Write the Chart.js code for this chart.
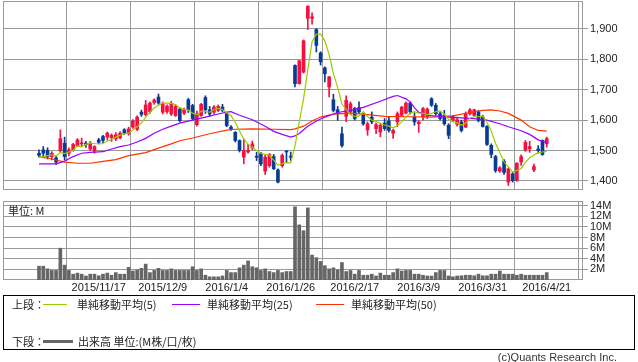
<!DOCTYPE html>
<html>
  <head>
    <meta charset="utf-8" />
    <title>chart</title>
    <style>
      body { margin: 0; width: 638px; height: 362px; position: relative; overflow: hidden; background: #fff; color: #222; }
      #price { position: absolute; left: 0; top: 0; }
      #vol { position: absolute; left: 0; top: 195px; }
      .cjk { font-family: "Noto Sans CJK JP", sans-serif; font-size: 11px; white-space: nowrap; position: absolute; line-height: 14px; }
      .unit { left: 8px; top: 203px; }
      .legend { position: absolute; left: 3px; top: 295px; width: 632px; height: 55px; border: 1px solid #000; box-sizing: border-box; }
      .ln { position: absolute; height: 0; }
      .copy { position: absolute; right: 21px; top: 350px; font-family: "Liberation Sans", sans-serif; font-size: 11px; line-height: 14px; color: #333; }
    </style>
  </head>

  <body>
    <canvas id="price" width="638" height="192"></canvas>
    <canvas id="vol" width="638" height="102"></canvas>
    <div class="cjk unit">単位: M</div>

    <!-- 凡例 -->
    <div class="legend"></div>
    <div class="cjk" style="left:12px; top:297px">上段：</div>
    <div class="ln" style="left:43px; top:304px; width:24px; border-top:1px solid #99cc00"></div>
    <div class="cjk" style="left:77px; top:297px">単純移動平均(5)</div>
    <div class="ln" style="left:172px; top:304px; width:28px; border-top:1px solid #9900ff"></div>
    <div class="cjk" style="left:207px; top:297px">単純移動平均(25)</div>
    <div class="ln" style="left:316px; top:304px; width:28px; border-top:1px solid #ff3300"></div>
    <div class="cjk" style="left:351px; top:297px">単純移動平均(50)</div>
    <div class="cjk" style="left:12px; top:334px">下段：</div>
    <div class="ln" style="left:43px; top:340px; width:30px; border-top:3px solid #666"></div>
    <div class="cjk" style="left:78px; top:334px">出来高 単位:(M株/口/枚)</div>
    <div class="copy">(c)Quants Research Inc.</div>

    <script src="https://cdn.jsdelivr.net/npm/chart.js@4"></script>

    <script>
      // 日足 (2015/10/27 - 2016/4/21)
      var open = [
        1491, 1502, 1500, 1480, 1476, 1500, 1524, 1491, 1502, 1516,
        1522, 1524, 1505, 1498, 1535, 1546, 1544, 1542, 1538, 1542,
        1568, 1555, 1577, 1570, 1626, 1618, 1628, 1658, 1676, 1626,
        1628, 1620, 1615, 1636, 1623, 1667, 1648, 1585, 1615, 1674,
        1634, 1626, 1632, 1643, 1621, 1577, 1560, 1533, 1478, 1495,
        1509, 1481, 1489, 1432, 1450, 1480, 1436, 1450, 1498, 1481,
        1780, 1720, 1758, 1935, 1935, 1898, 1821, 1772, 1709, 1667,
        1634, 1555, 1612, 1627, 1638, 1641, 1616, 1568, 1610, 1572,
        1561, 1590, 1597, 1557, 1594, 1616, 1623, 1656, 1610, 1588,
        1610, 1612, 1670, 1649, 1621, 1616, 1583, 1599, 1586, 1594,
        1577, 1621, 1616, 1627, 1610, 1579, 1517, 1480, 1432, 1465,
        1396, 1423, 1401, 1462, 1502, 1506, 1436, 1505, 1533, 1522,
      ];
      var high = [
        1502, 1513, 1509, 1496, 1482, 1568, 1544, 1509, 1524, 1539,
        1541, 1530, 1530, 1516, 1540, 1550, 1561, 1555, 1559, 1562,
        1572, 1577, 1602, 1614, 1633, 1665, 1660, 1670, 1686, 1660,
        1650, 1662, 1650, 1640, 1640, 1672, 1652, 1630, 1655, 1680,
        1645, 1648, 1650, 1652, 1625, 1582, 1562, 1535, 1538, 1520,
        1531, 1494, 1494, 1484, 1490, 1487, 1440, 1489, 1500, 1495,
        1782, 1797, 1864, 1976, 1953, 1901, 1825, 1775, 1744, 1685,
        1645, 1577, 1680, 1660, 1642, 1660, 1622, 1594, 1627, 1590,
        1590, 1605, 1610, 1570, 1627, 1645, 1660, 1660, 1624, 1598,
        1642, 1640, 1674, 1655, 1627, 1632, 1588, 1616, 1610, 1600,
        1627, 1638, 1636, 1632, 1616, 1582, 1522, 1484, 1447, 1470,
        1443, 1428, 1460, 1486, 1533, 1530, 1455, 1516, 1535, 1544,
      ];
      var low = [
        1478, 1476, 1472, 1469, 1454, 1495, 1469, 1482, 1498, 1513,
        1513, 1510, 1500, 1491, 1522, 1526, 1535, 1530, 1532, 1538,
        1553, 1550, 1573, 1565, 1612, 1614, 1622, 1652, 1652, 1620,
        1622, 1615, 1612, 1594, 1618, 1625, 1600, 1580, 1612, 1622,
        1612, 1620, 1628, 1628, 1578, 1566, 1528, 1495, 1456, 1491,
        1502, 1467, 1450, 1421, 1445, 1437, 1393, 1445, 1461, 1467,
        1709, 1718, 1755, 1898, 1916, 1824, 1781, 1726, 1676, 1627,
        1599, 1511, 1595, 1618, 1600, 1622, 1583, 1550, 1588, 1555,
        1545, 1566, 1560, 1540, 1578, 1612, 1620, 1620, 1583, 1560,
        1600, 1605, 1645, 1616, 1600, 1583, 1539, 1595, 1580, 1561,
        1575, 1616, 1612, 1594, 1577, 1517, 1476, 1428, 1428, 1421,
        1385, 1396, 1398, 1451, 1497, 1494, 1430, 1491, 1484, 1511,
      ];
      var close = [
        1484, 1491, 1480, 1491, 1462, 1539, 1480, 1502, 1520, 1535,
        1524, 1520, 1524, 1513, 1527, 1533, 1557, 1550, 1552, 1557,
        1557, 1571, 1597, 1610, 1619, 1650, 1656, 1666, 1656, 1654,
        1646, 1655, 1645, 1598, 1634, 1634, 1605, 1621, 1652, 1634,
        1620, 1643, 1645, 1632, 1582, 1571, 1533, 1500, 1500, 1500,
        1522, 1478, 1456, 1478, 1487, 1440, 1396, 1484, 1495, 1478,
        1720, 1795, 1861, 1975, 1940, 1846, 1792, 1753, 1742, 1632,
        1621, 1516, 1665, 1654, 1605, 1627, 1588, 1588, 1594, 1585,
        1583, 1572, 1566, 1566, 1621, 1643, 1656, 1627, 1594, 1594,
        1638, 1636, 1649, 1621, 1605, 1588, 1550, 1612, 1601, 1566,
        1621, 1634, 1634, 1599, 1579, 1520, 1487, 1434, 1443, 1428,
        1440, 1401, 1458, 1480, 1527, 1513, 1447, 1500, 1487, 1539,
      ];

      // 出来高 (M)
      var volume = [
        2.6, 2.6, 2.1, 1.8, 1.8, 6.0, 2.8, 1.8, 1.1, 1.3,
        1.1, 0.75, 1.1, 1.1, 0.8, 1.1, 1.3, 0.9, 1.4, 1.1,
        1.1, 2.4, 1.7, 1.9, 2.2, 3.0, 1.4, 1.8, 2.2, 1.8,
        1.8, 2.1, 1.8, 1.8, 1.8, 1.8, 2.5, 1.8, 2.1, 0.9,
        0.6, 0.6, 0.6, 0.75, 1.8, 1.4, 1.4, 2.3, 2.8, 3.6,
        2.5, 2.3, 1.8, 2.1, 1.6, 1.4, 1.8, 1.4, 1.6, 1.6,
        13.8, 10.4, 9.3, 13.6, 4.7, 4.2, 3.5, 2.7, 2.1, 2.3,
        1.9, 3.3, 1.6, 1.8, 1.1, 1.8, 0.9, 0.9, 1.1, 0.75,
        1.3, 0.9, 0.9, 1.4, 2.1, 1.7, 1.8, 1.8, 1.1, 1.1,
        0.9, 0.75, 0.75, 1.4, 1.8, 1.8, 0.75, 0.6, 0.75, 0.8,
        0.9, 0.9, 0.8, 1.1, 0.8, 0.8, 1.1, 1.1, 1.7, 1.1,
        1.1, 1.1, 0.9, 1.1, 0.9, 0.9, 0.9, 0.9, 0.9, 1.4,
      ];

      // 単純移動平均(5)
      var ma5 = [
        1478, 1480, 1483, 1486, 1482, 1493, 1490, 1495, 1501, 1515,
        1512, 1520, 1525, 1523, 1522, 1523, 1531, 1536, 1544, 1550,
        1555, 1557, 1567, 1578, 1591, 1609, 1626, 1640, 1649, 1656,
        1656, 1655, 1651, 1640, 1636, 1633, 1623, 1618, 1629, 1629,
        1626, 1634, 1639, 1635, 1624, 1615, 1593, 1564, 1537, 1521,
        1511, 1500, 1491, 1487, 1484, 1468, 1451, 1457, 1460, 1459,
        1515, 1594, 1670, 1766, 1858, 1883, 1883, 1861, 1815, 1753,
        1708, 1653, 1635, 1618, 1612, 1613, 1628, 1612, 1600, 1596,
        1588, 1584, 1580, 1574, 1582, 1594, 1610, 1623, 1628, 1623,
        1622, 1618, 1622, 1628, 1630, 1620, 1603, 1595, 1591, 1583,
        1590, 1607, 1611, 1611, 1613, 1593, 1564, 1524, 1493, 1462,
        1446, 1429, 1434, 1441, 1461, 1476, 1485, 1493, 1495, 1497,
      ];
      // 単純移動平均(25) 読み取り点
      var ma25Idx = [0, 4, 6, 8, 10, 12, 15, 17, 19, 21, 23, 25, 27, 29, 31, 33, 36, 39, 42, 44, 45, 47, 50, 53, 55, 57, 59, 60, 61, 63, 65, 67, 70, 73, 76, 80, 83, 84, 86, 87, 88, 89, 91, 94, 98, 102, 105, 108, 110, 113, 115, 117, 119];
      var ma25 = [1456, 1456, 1465, 1480, 1491, 1494, 1496, 1505, 1513, 1518, 1528, 1540, 1557, 1570, 1580, 1590, 1600, 1610, 1620, 1626, 1628, 1616, 1601, 1580, 1563, 1553, 1544, 1548, 1556, 1580, 1597, 1610, 1625, 1632, 1642, 1662, 1678, 1681, 1670, 1660, 1640, 1626, 1616, 1612, 1608, 1605, 1600, 1588, 1578, 1565, 1553, 1535, 1526];
      // 単純移動平均(50) 読み取り点
      var ma50Idx = [0, 3, 6, 9, 12, 15, 18, 21, 25, 28, 31, 33, 36, 40, 44, 46, 50, 55, 59, 60, 62, 64, 66, 69, 73, 77, 81, 87, 92, 97, 101, 104, 106, 108, 110, 113, 115, 117, 119];
      var ma50 = [1480, 1472, 1462, 1458, 1458, 1464, 1470, 1483, 1493, 1508, 1522, 1532, 1541, 1555, 1567, 1570, 1571, 1570, 1569, 1571, 1580, 1597, 1610, 1620, 1623, 1618, 1612, 1611, 1610, 1614, 1625, 1632, 1634, 1630, 1622, 1600, 1578, 1566, 1564];

      var tickIdx = [14, 29, 44, 59, 74, 89, 104, 119];
      var tickLabels = ["2015/11/17", "2015/12/9", "2016/1/4", "2016/1/26", "2016/2/17", "2016/3/9", "2016/3/31", "2016/4/21"];
      var priceTicks = [1400, 1500, 1600, 1700, 1800, 1900];
      var volTicks = [2, 4, 6, 8, 10, 12, 14];

      var RED = "#f5103f";
      var BLUE = "#0a3a94";
      var GRID = "#9a9a9a";
      var tickFont = { family: "Liberation Sans", size: 11 };

      var candleColor = close.map(function (c, i) { return c >= open[i] ? RED : BLUE; });

      // 枠線
      var frame = {
        id: "frame",
        beforeDatasetsDraw: function (chart) {
          var a = chart.chartArea, ctx = chart.ctx;
          ctx.save();
          ctx.strokeStyle = GRID;
          ctx.lineWidth = 1;
          ctx.strokeRect(Math.round(a.left) + 0.5, Math.round(a.top) + 0.5,
            Math.round(a.right - a.left) - 1, Math.round(a.bottom - a.top) - 1);
          ctx.restore();
        },
      };

      function xScale(showLabels, h) {
        return {
          type: "linear", min: -8.44, max: 127.5, offset: false,
          grid: { color: GRID, drawTicks: false },
          border: { display: false },
          ticks: {
            display: showLabels, color: "#222", font: tickFont, padding: 1,
            maxRotation: 0, autoSkip: false,
            callback: function (v, i) { return tickLabels[i]; },
          },
          afterBuildTicks: function (s) { s.ticks = tickIdx.map(function (v) { return { value: v }; }); },
          afterFit: function (s) { s.height = h; s.paddingLeft = 0; s.paddingRight = 0; },
        };
      }

      function yScale(min, max, ticks, fmt) {
        return {
          position: "right", min: min, max: max,
          grid: { color: GRID, tickLength: 5 },
          border: { display: false },
          ticks: { color: "#222", font: tickFont, padding: 2, autoSkip: false, callback: fmt },
          afterBuildTicks: function (s) { s.ticks = ticks.map(function (v) { return { value: v }; }); },
          afterFit: function (s) { s.width = 55; s.paddingTop = 0; s.paddingBottom = 0; },
        };
      }

      function maLine(data, color) {
        return { type: "line", data: data, borderColor: color, borderWidth: 1.2, pointRadius: 0, tension: 0, order: 0 };
      }

      var priceChart = new Chart(document.getElementById("price"), {
        type: "bar",
        data: {
          datasets: [
            maLine(ma5.map(function (v, i) { return { x: i, y: v }; }), "#99cc00"),
            maLine(ma25Idx.map(function (x, k) { return { x: x, y: ma25[k] }; }), "#9900ff"),
            maLine(ma50Idx.map(function (x, k) { return { x: x, y: ma50[k] }; }), "#ff3300"),
            {
              data: open.map(function (o, i) { return { x: i, y: [o, close[i]] }; }),
              backgroundColor: candleColor, barThickness: 3, grouped: false, minBarLength: 1, order: 1,
            },
            {
              data: low.map(function (l, i) { return { x: i, y: [l, high[i]] }; }),
              backgroundColor: candleColor, barThickness: 1, grouped: false, order: 2,
            },
          ],
        },
        options: {
          responsive: false, animation: false, devicePixelRatio: 1,
          layout: { padding: { left: 3, top: 1, right: 0, bottom: 2 } },
          plugins: { legend: { display: false }, tooltip: { enabled: false } },
          scales: {
            x: xScale(false, 0),
            y: yScale(1370, 1992, priceTicks, function (v) { return v.toLocaleString("en-US"); }),
          },
        },
        plugins: [frame],
      });

      var volChart = new Chart(document.getElementById("vol"), {
        type: "bar",
        data: {
          datasets: [
            {
              data: volume.map(function (v, i) { return { x: i, y: v }; }),
              backgroundColor: "#666666", barThickness: 3, grouped: false,
            },
          ],
        },
        options: {
          responsive: false, animation: false, devicePixelRatio: 1,
          layout: { padding: { left: 3, top: 6, right: 0, bottom: 0 } },
          plugins: { legend: { display: false }, tooltip: { enabled: false } },
          scales: {
            x: xScale(true, 17),
            y: yScale(0, 14.9, volTicks, function (v) { return v + "M"; }),
          },
        },
        plugins: [frame],
      });
    </script>
  </body>
</html>
